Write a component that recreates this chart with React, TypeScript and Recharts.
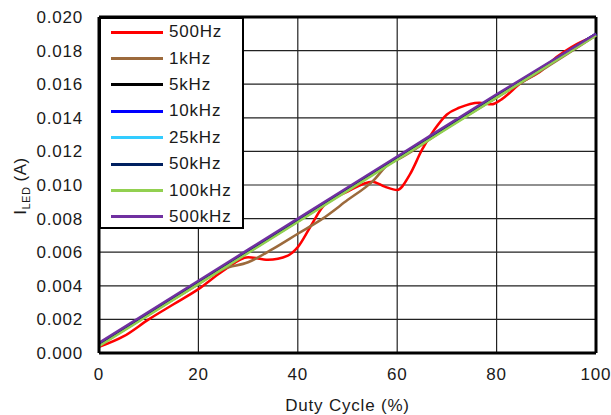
import React from 'react'
import {
  LineChart,
  Line,
  XAxis,
  YAxis,
  CartesianGrid,
  Legend,
  ReferenceLine,
} from 'recharts'

// duty cycle points for the two low-frequency traces (they wobble)
const duty500Hz = [0, 5, 10, 15, 20, 25, 30, 34, 38, 40, 42.5, 45, 50, 55, 57.5, 60, 62.5, 65, 67.5, 70, 72.5, 76.5, 79, 81, 85, 89, 92, 95, 100]
const iLed500Hz = [0.00036, 0.0010, 0.0020, 0.0029, 0.0038, 0.0049, 0.0057, 0.00555, 0.0058, 0.0063, 0.0075, 0.0087, 0.0096, 0.0102, 0.0099, 0.0097, 0.0106, 0.0121, 0.0133, 0.0142, 0.0146, 0.0149, 0.0148, 0.0151, 0.0161, 0.0168, 0.0176, 0.0182, 0.0189]

const duty1kHz = [0, 5, 10, 15, 20, 25, 30, 35, 40, 45, 50, 55, 58.5, 60, 70, 80, 90, 100]
const iLed1kHz = [0.00045, 0.0014, 0.0023, 0.0032, 0.0041, 0.0050, 0.0054, 0.0062, 0.0071, 0.0080, 0.0091, 0.0102, 0.0113, 0.0115, 0.0134, 0.0152, 0.0170, 0.0189]

// the higher frequencies are all practically straight
const dutyLinear = [0, 20, 40, 60, 80, 100]
const iLed5kHz = [0.00045, 0.00415, 0.00785, 0.01155, 0.01525, 0.01895]
const iLed10kHz = [0.0005, 0.0042, 0.0079, 0.0116, 0.0153, 0.0190]
const iLed25kHz = [0.00045, 0.00415, 0.00785, 0.01155, 0.01525, 0.01895]
const iLed50kHz = [0.0005, 0.0042, 0.0079, 0.0116, 0.0153, 0.0190]
const iLed100kHz = [0.0004, 0.0041, 0.0078, 0.0115, 0.0152, 0.0189]
const iLed500kHz = [0.0006, 0.0043, 0.0080, 0.0117, 0.0154, 0.0190]

const xTicks = [0, 20, 40, 60, 80, 100]
const yTicks = [0, 0.002, 0.004, 0.006, 0.008, 0.01, 0.012, 0.014, 0.016, 0.018, 0.02]

const toPoints = (duty: number[], vals: number[]) =>
  duty.map((d, i) => ({ duty: d, iled: vals[i] }))

const series = [
  { name: '500Hz', color: '#ff0000', data: toPoints(duty500Hz, iLed500Hz) },
  { name: '1kHz', color: '#9c6a3c', data: toPoints(duty1kHz, iLed1kHz) },
  { name: '5kHz', color: '#000000', data: toPoints(dutyLinear, iLed5kHz) },
  { name: '10kHz', color: '#0000ff', data: toPoints(dutyLinear, iLed10kHz) },
  { name: '25kHz', color: '#33ccff', data: toPoints(dutyLinear, iLed25kHz) },
  { name: '50kHz', color: '#002060', data: toPoints(dutyLinear, iLed50kHz) },
  { name: '100kHz', color: '#92d050', data: toPoints(dutyLinear, iLed100kHz) },
  { name: '500kHz', color: '#7030a0', data: toPoints(dutyLinear, iLed500kHz) },
]

const font = '"Liberation Sans", Arial, sans-serif'
const txt = { fill: '#1a1a1a', fontSize: 17, fontFamily: font, letterSpacing: 0.8 }

const LegendBox = () => (
  <div
    style={{
      background: '#fff',
      border: '2px solid #000',
      width: 145,
      height: 212,
      boxSizing: 'border-box',
      paddingTop: 0,
      fontFamily: font,
      fontSize: 17,
      letterSpacing: 0.8,
      color: '#1a1a1a',
    }}
  >
    {series.map((s) => (
      <div key={s.name} style={{ display: 'flex', alignItems: 'center', height: 26.4 }}>
        <div style={{ width: 52, height: 3, background: s.color, marginLeft: 10, marginRight: 6 }} />
        <span>{s.name}</span>
      </div>
    ))}
  </div>
)

const YLabel = () => (
  <text
    x={26}
    y={186}
    transform='rotate(-90, 26, 186)'
    textAnchor='middle'
    fontFamily={font}
    fontSize={17}
    letterSpacing={0.5}
    fill='#1a1a1a'
  >
    I
    <tspan dy={4} fontSize={11}>LED</tspan>
    <tspan dy={-4}> (A)</tspan>
  </text>
)

export default function App() {
  return (
    <div style={{ position: 'absolute', left: 0, top: 0, width: 611, height: 415, background: '#fff' }}>
      <LineChart
        width={611}
        height={415}
        margin={{ top: 17, right: 15, left: 0, bottom: 0 }}
      >
        <CartesianGrid stroke='#222' strokeWidth={1.2} />
        <XAxis
          dataKey='duty'
          type='number'
          domain={[0, 100]}
          ticks={xTicks}
          allowDuplicatedCategory={false}
          height={62}
          tickLine={false}
          tickSize={8}
          tickMargin={7}
          stroke='#000'
          strokeWidth={3}
          tick={txt}
          label={{ value: 'Duty Cycle (%)', position: 'insideBottom', offset: 4, ...txt }}
        />
        <YAxis
          type='number'
          domain={[0, 0.02]}
          ticks={yTicks}
          width={99}
          tickLine={false}
          tickSize={8}
          tickMargin={8}
          stroke='#000'
          strokeWidth={3}
          tickFormatter={(v: number) => v.toFixed(3)}
          tick={txt}
          label={<YLabel />}
        />
        <ReferenceLine y={0.02} stroke='#000' strokeWidth={3} />
        <ReferenceLine x={100} stroke='#000' strokeWidth={3} />
        {series.map((s) => (
          <Line
            key={s.name}
            data={s.data}
            dataKey='iled'
            name={s.name}
            type='monotone'
            stroke={s.color}
            strokeWidth={2.5}
            dot={false}
            isAnimationActive={false}
          />
        ))}
        <Legend
          layout='horizontal'
          verticalAlign='middle'
          align='center'
          wrapperStyle={{ top: 17, left: 99, width: 'auto', zIndex: 5 }}
          content={() => <LegendBox />}
        />
      </LineChart>
    </div>
  )
}
